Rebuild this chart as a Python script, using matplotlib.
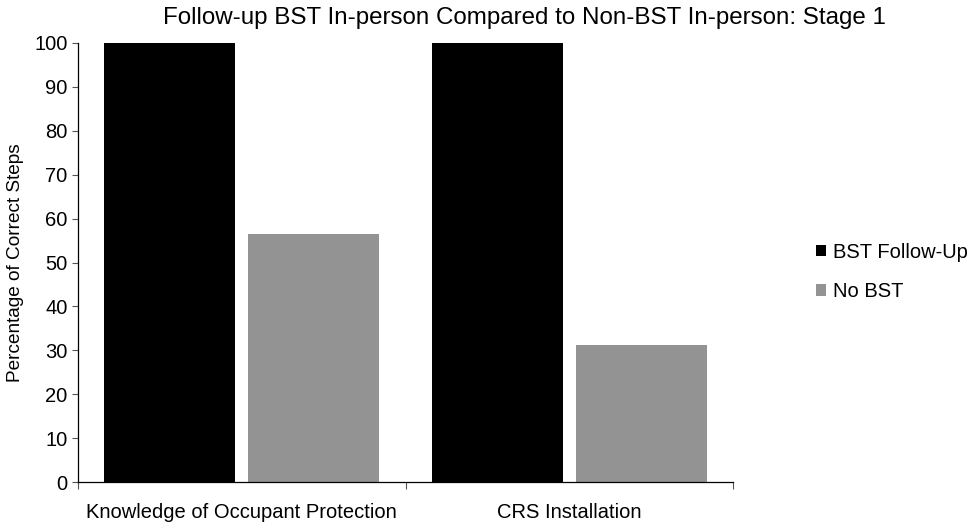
#!/usr/bin/env python3
import numpy
from matplotlib import pyplot
from matplotlib.patches import Patch

pyplot.rcParams['font.family'] = ['Liberation Sans', 'DejaVu Sans']

categories = ["Knowledge of Occupant Protection", "CRS Installation"]
series_names = ["BST Follow-Up", "No BST"]
bst_followup = [100, 100]
no_bst = [56.5, 31.2]
colors = ["#000000", "#939393"]

fig = pyplot.figure(figsize=(9.75, 5.24), dpi=100)
ax = fig.add_axes([0.08, 0.08, 0.672, 0.838])

ind = numpy.arange(len(categories))
width = 0.4
offset = 0.22
ax.bar(ind - offset, bst_followup, width, color=colors[0])
ax.bar(ind + offset, no_bst, width, color=colors[1])

ax.set_xlim(-0.5, len(categories) - 0.5)
ax.set_ylim(0, 100)
ax.set_yticks(range(0, 101, 10))

# category labels sit between the boundary tick marks
ax.set_xticks(ind)
ax.set_xticklabels(categories, fontsize=14.5)
ax.tick_params(axis='x', which='major', length=0, pad=15)
ax.set_xticks(numpy.arange(-0.5, len(categories)), minor=True)
ax.tick_params(axis='x', which='minor', length=5, direction='out', width=0.8,
               color='#555555')
ax.tick_params(axis='y', length=4.5, width=0.8, labelsize=14.5, pad=3,
               color='#555555')

for side in ('top', 'right'):
  ax.spines[side].set_visible(False)
ax.spines['left'].set_linewidth(0.9)
ax.spines['bottom'].set_linewidth(0.9)

ax.set_ylabel('Percentage of Correct Steps', fontsize=13.7, labelpad=7)
fig.text(0.538, 0.966, 'Follow-up BST In-person Compared to Non-BST In-person: Stage 1',
         ha='center', va='center', fontsize=17.4)

handles = [Patch(facecolor=c, edgecolor='none') for c in colors]
fig.legend(handles, series_names, loc='center left',
           bbox_to_anchor=(0.818, 0.481), frameon=False, fontsize=14.5,
           handlelength=0.5, handleheight=0.5, handletextpad=0.35,
           labelspacing=1.0)

pyplot.savefig('out.png', dpi=100)
pyplot.close()
